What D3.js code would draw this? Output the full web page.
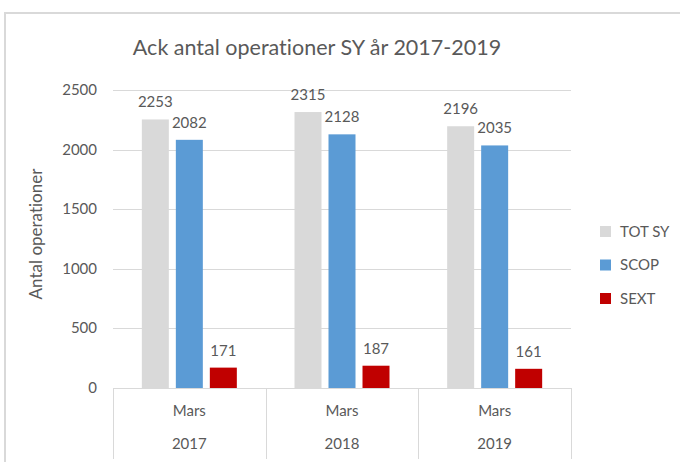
<!DOCTYPE html>
<html>
<head>
<meta charset="utf-8">
<script src="https://cdn.jsdelivr.net/npm/d3@7"></script>
<style>
  body { margin: 0; background: #fff; }
  svg text {
    font-family: Lato, "Liberation Sans", sans-serif;
    fill: #595959;
    font-variant-ligatures: none;
    font-feature-settings: "liga" 0;
  }
</style>
</head>
<body>
<div id="chart"></div>
<script>
// Chart data
const months = ["Mars", "Mars", "Mars"];
const years = ["2017", "2018", "2019"];
const seriesNames = ["TOT SY", "SCOP", "SEXT"];
const totSy = [2253, 2315, 2196];
const scop = [2082, 2128, 2035];
const sext = [171, 187, 161];
const yTicks = [0, 500, 1000, 1500, 2000, 2500];

const colors = { "TOT SY": "#d9d9d9", "SCOP": "#5b9bd5", "SEXT": "#c00000" };
const seriesValues = { "TOT SY": totSy, "SCOP": scop, "SEXT": sext };

const width = 680;
const height = 462;

const svg = d3.select("#chart")
  .append("svg")
  .attr("width", width)
  .attr("height", height);

// Outer chart frame (only top and left edges are in view)
svg.append("path")
  .attr("d", "M5,470 L5,13 L690,13")
  .attr("fill", "none")
  .attr("stroke", "#d9d9d9")
  .attr("stroke-width", 2);

// Scales
const plotLeft = 113, plotRight = 571, plotTop = 90, plotBottom = 388;

const x0 = d3.scaleBand()
  .domain(years)
  .range([plotLeft, plotRight])
  .padding(0);

const cluster = 95;
const x1 = d3.scaleBand()
  .domain(seriesNames)
  .range([(x0.bandwidth() - cluster) / 2, (x0.bandwidth() + cluster) / 2])
  .paddingInner(0.206);

const y = d3.scaleLinear()
  .domain([0, 2500])
  .range([plotBottom, plotTop]);

// Title
svg.append("text")
  .attr("x", 317)
  .attr("y", 55)
  .attr("text-anchor", "middle")
  .style("font-size", "21.5px")
  .text("Ack antal operationer SY år 2017-2019");

// Gridlines
svg.append("g")
  .selectAll("line")
  .data(yTicks.filter((d) => d > 0))
  .enter()
  .append("line")
  .attr("x1", plotLeft)
  .attr("x2", plotRight)
  .attr("y1", (d) => Math.round(y(d)) + 0.5)
  .attr("y2", (d) => Math.round(y(d)) + 0.5)
  .attr("stroke", "#d9d9d9");

// Y tick labels
svg.append("g")
  .selectAll("text")
  .data(yTicks)
  .enter()
  .append("text")
  .attr("x", 97)
  .attr("y", (d) => y(d) + 5)
  .attr("text-anchor", "end")
  .style("font-size", "15px")
  .text((d) => d);

// Y axis title
svg.append("text")
  .attr("transform", "translate(42,234) rotate(-90)")
  .attr("text-anchor", "middle")
  .style("font-size", "17px")
  .text("Antal operationer");

// Bars
const groups = svg.append("g")
  .selectAll("g")
  .data(years)
  .enter()
  .append("g")
  .attr("transform", (d) => `translate(${x0(d)},0)`);

groups.each(function (yr, i) {
  const g = d3.select(this);
  seriesNames.forEach((s) => {
    const v = seriesValues[s][i];
    g.append("rect")
      .attr("x", x1(s))
      .attr("y", y(v))
      .attr("width", x1.bandwidth())
      .attr("height", y(0) - y(v))
      .attr("fill", colors[s]);
    g.append("text")
      .attr("x", x1(s) + x1.bandwidth() / 2)
      .attr("y", y(v) - 12)
      .attr("text-anchor", "middle")
      .style("font-size", "15px")
      .text(v);
  });
});

// Category axis: baseline and dividers
svg.append("line")
  .attr("x1", plotLeft)
  .attr("x2", plotRight)
  .attr("y1", plotBottom + 0.5)
  .attr("y2", plotBottom + 0.5)
  .attr("stroke", "#d9d9d9");

const dividers = years.map((d) => x0(d)).concat([plotRight]);
svg.append("g")
  .selectAll("line")
  .data(dividers)
  .enter()
  .append("line")
  .attr("x1", (d) => Math.round(d) + 0.5)
  .attr("x2", (d) => Math.round(d) + 0.5)
  .attr("y1", plotBottom)
  .attr("y2", 459)
  .attr("stroke", "#d9d9d9");

// Month and year labels
svg.append("g")
  .selectAll("text")
  .data(months)
  .enter()
  .append("text")
  .attr("x", (d, i) => x0(years[i]) + x0.bandwidth() / 2)
  .attr("y", 416)
  .attr("text-anchor", "middle")
  .style("font-size", "15px")
  .text((d) => d);

svg.append("g")
  .selectAll("text")
  .data(years)
  .enter()
  .append("text")
  .attr("x", (d) => x0(d) + x0.bandwidth() / 2)
  .attr("y", 449)
  .attr("text-anchor", "middle")
  .style("font-size", "15px")
  .text((d) => d);

// Legend
const legend = svg.append("g")
  .selectAll("g")
  .data(seriesNames)
  .enter()
  .append("g")
  .attr("transform", (d, i) => `translate(600,${231 + i * 33.5})`);

legend.append("rect")
  .attr("x", 0)
  .attr("y", -5)
  .attr("width", 11)
  .attr("height", 11)
  .attr("fill", (d) => colors[d]);

legend.append("text")
  .attr("x", 20)
  .attr("y", 5.5)
  .style("font-size", "15px")
  .text((d) => d);
</script>
</body>
</html>
